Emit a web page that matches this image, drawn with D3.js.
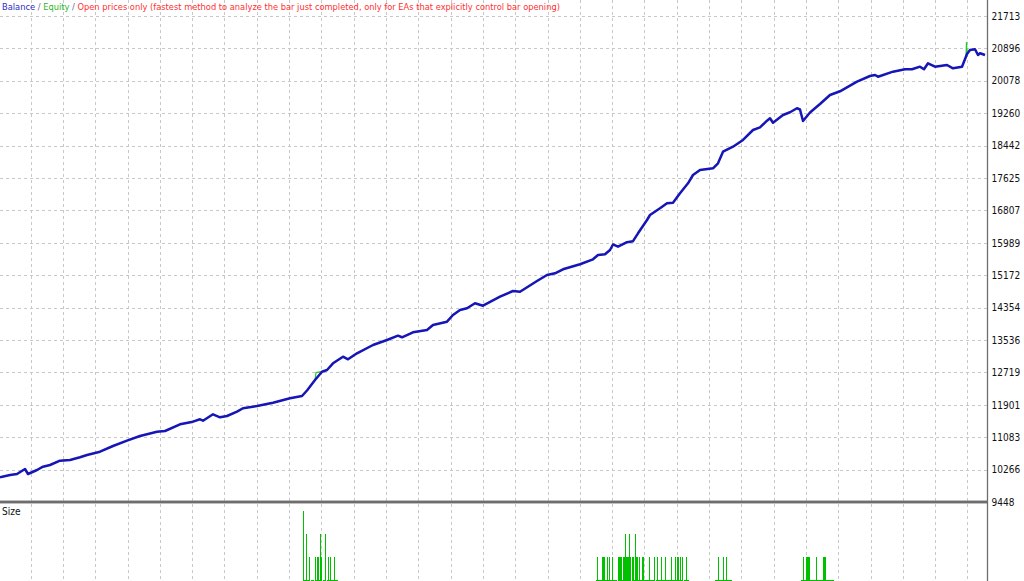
<!DOCTYPE html>
<html><head><meta charset="utf-8">
<script src="https://cdn.jsdelivr.net/npm/d3@7"></script>
<style>html,body{margin:0;padding:0;background:#fff;overflow:hidden}svg{display:block}</style>
</head><body>
<svg id="c" width="1024" height="581"></svg>
<script>
// ---- data ----
const trades = [0,10,17,25,28,37,43,50,60,70,80,87,100,113,127,140,157,165,180,193,200,203,213,220,227,237,243,257,273,290,302,307,315,322,327,333,343,348,357,373,387,398,402,413,427,433,447,453,460,467,475,483,500,513,520,537,547,555,563,580,593,598,605,610,613,618,627,633,638,647,650,660,667,673,680,688,693,700,713,718,723,733,743,753,760,767,770,773,783,790,797,800,803,810,820,830,840,857,870,875,878,893,905,912,920,924,928,935,947,953,962,967,970,975,978,980,985];
const balance = [10071,10129,10155,10281,10155,10256,10339,10382,10490,10508,10576,10634,10717,10861,10995,11114,11222,11240,11409,11475,11535,11500,11661,11586,11618,11727,11813,11871,11954,12065,12123,12262,12527,12736,12779,12948,13115,13049,13201,13410,13536,13645,13605,13731,13789,13915,13998,14167,14294,14336,14463,14402,14629,14773,14755,15025,15177,15220,15321,15447,15573,15682,15699,15808,15947,15891,16005,16030,16229,16565,16691,16860,16986,17001,17239,17491,17700,17827,17870,17996,18289,18415,18584,18836,18904,19071,19131,19020,19215,19283,19384,19354,19063,19278,19492,19719,19813,20055,20199,20224,20181,20308,20368,20368,20434,20368,20519,20434,20477,20393,20434,20754,20855,20873,20728,20772,20728];
const equityTrades = [316, 966, 966.5];
const equityValues = [12715, 20690, 21057];
const yTicks = [9448,10266,11083,11901,12719,13536,14354,15172,15989,16807,17625,18442,19260,20078,20896,21713];
const size4 = [303];
const size3 = [306,320,325,625,629,635];
const size2 = [309,315,317,318,321,328,330,334,597,602,603,604,607,609,612,618,619,620,621,623,624,626,627,628,630,632,633,636,637,639,642,643,649,654,657,661,665,671,675,677,678,680,682,686,718,723,726,803,806,807,808,809,816,823,824,825];
const size1 = [303,304,305,307,308,309,311,312,313,315,316,317,319,320,321,323,324,325,327,328,329,331,332,333,335,336,337,
  596,598,599,600,601,602,604,605,606,608,610,611,613,614,615,616,618,620,622,624,626,628,630,632,634,635,636,638,640,641,642,644,645,646,647,648,650,651,652,653,654,656,658,659,660,662,663,664,666,667,668,669,670,672,673,674,676,678,679,680,681,682,684,685,686,687,688,
  715,716,717,718,719,720,721,722,723,724,725,726,727,728,729,730,731,
  801,802,803,804,805,806,807,808,809,810,811,812,813,814,815,816,817,818,819,820,821,822,823,824,825,826,827,828,829,830,831,832,833];
const titleParts = [["Balance","#2c2cc8"],[" / ","#6a6a8a"],["Equity","#2cb82c"],[" / ","#6a6a8a"],["Open prices only (fastest method to analyze the bar just completed, only for EAs that explicitly control bar opening)","#ff3030"]];

// ---- layout ----
const W = 1024, H = 581, axisX = 987, sepY = 502, topY = 16;
const svg = d3.select("#c");
const font = "'DejaVu Sans Condensed','DejaVu Sans',sans-serif";

const x = d3.scaleLinear().domain([0, 985]).range([0, 985]);
const y = d3.scaleLinear().domain([9448, 21713]).range([sepY, topY]);
const ys = d3.scaleLinear().domain([0, 4]).range([603.5, 510.5]);

// grid
const grid = svg.append("g").attr("stroke", "#c8c8c8").attr("stroke-dasharray", "3,3").attr("stroke-width", 1);
const gridStep = 32.3, gridStart = 30.7;
const vx = d3.range(gridStart, axisX - 5, gridStep);
grid.selectAll("line.v").data(vx).join("line")
  .attr("x1", d => Math.round(d) + 0.5).attr("x2", d => Math.round(d) + 0.5)
  .attr("y1", 0).attr("y2", H);
grid.selectAll("line.h").data(yTicks.slice(1)).join("line")
  .attr("x1", 0).attr("x2", axisX)
  .attr("y1", d => Math.round(y(d)) + 0.5).attr("y2", d => Math.round(y(d)) + 0.5);

// size bars
const sizeData = [].concat(size1.map(t => [t,1]), size2.map(t => [t,2]), size3.map(t => [t,3]), size4.map(t => [t,4]));
svg.append("g").attr("stroke", "#00c000").attr("stroke-width", 1)
  .selectAll("line").data(sizeData).join("line")
  .attr("x1", d => Math.round(x(d[0])) + 0.5).attr("x2", d => Math.round(x(d[0])) + 0.5)
  .attr("y1", ys(0)).attr("y2", d => Math.round(ys(d[1])));

// equity + balance
const balPts = trades.map((t, i) => [t, balance[i]]);
const eqPts = balPts.concat(equityTrades.map((t, i) => [t, equityValues[i]])).sort((a, b) => a[0] - b[0]);
const line = d3.line().x(d => x(d[0])).y(d => y(d[1]));
svg.append("path").attr("d", line(eqPts)).attr("fill", "none").attr("stroke", "#22cc22").attr("stroke-width", 1.2);
svg.append("path").attr("d", line(balPts)).attr("fill", "none").attr("stroke", "#1616b8").attr("stroke-width", 2.5).attr("stroke-linejoin", "round");

// separator
svg.append("rect").attr("x", 0).attr("y", sepY - 1.5).attr("width", axisX).attr("height", 3).attr("fill", "#808080");
svg.append("line").attr("x1", 0).attr("x2", axisX).attr("y1", sepY).attr("y2", sepY).attr("stroke", "#5a5a5a").attr("stroke-width", 1);

// right axis
const axis = d3.axisRight(y).tickValues(yTicks).tickSize(0).tickPadding(4).tickFormat(d3.format("d"));
const ag = svg.append("g").attr("transform", `translate(${axisX + 0.5},0)`).call(axis);
ag.select(".domain").remove();
ag.selectAll("text").attr("font-family", font).attr("font-size", 10).attr("fill", "#111");
svg.append("line").attr("x1", axisX + 0.5).attr("x2", axisX + 0.5).attr("y1", 0).attr("y2", H).attr("stroke", "#6e6e6e").attr("stroke-width", 1.3);

// title
const title = svg.append("text").attr("x", 2).attr("y", 9.5).attr("font-family", font).attr("font-size", 10);
titleParts.forEach(p => title.append("tspan").text(p[0]).attr("fill", p[1]));
const tw = title.node().getComputedTextLength();
title.attr("font-size", 10 * 559 / tw);

svg.append("text").attr("x", 2).attr("y", 515).attr("font-family", font).attr("font-size", 10).attr("fill", "#111").text("Size");
</script>
</body></html>
